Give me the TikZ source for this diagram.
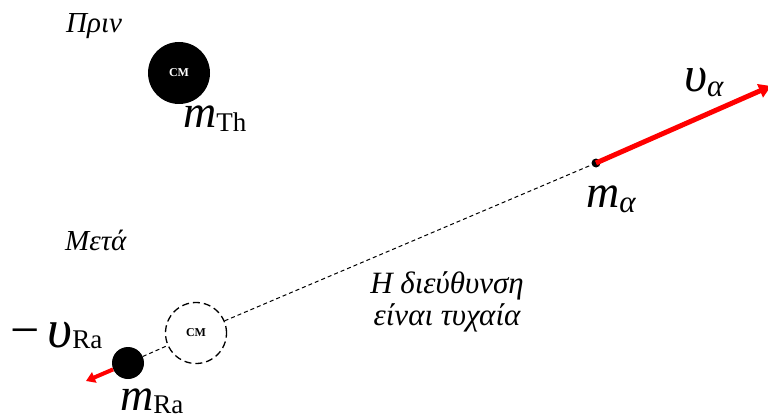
\documentclass[tikz,border=0pt]{standalone}
\usepackage{fontspec}
\setmainfont{Liberation Serif}
\usetikzlibrary{arrows.meta}
\newcommand{\fs}[1]{\fontsize{#1}{#1}\selectfont}
\newcommand{\lowsub}[2]{\raisebox{-#1pt}{#2}}
\tikzset{
  lbl/.style={inner sep=0pt, anchor=base west},
  vel/.style={red, line width=5pt, -{Triangle[length=12pt,width=14pt]}},
  path/.style={line width=1pt, dash pattern=on 4pt off 3pt},
}
\begin{document}
\begin{tikzpicture}[x=1pt,y=-1pt]
\useasboundingbox (0,0) rectangle (768,417);
% Before
\node[lbl] (prin) at (66,33) {\fs{29}\itshape Πριν};
\node[circle, fill=black, minimum size=62pt, inner sep=0pt] (th) at (179,73) {};
\node[text=white, font=\fs{12}\bfseries] (thcm) at (th) {CM};
\node[lbl] (mth) at (183,128) {\fs{46}\itshape m\lowsub{4}{\fs{27}\upshape Th}};
% After
\node[lbl] (meta) at (65,250) {\fs{29}\itshape Μετά};
\node[circle, draw=black, dash pattern=on 7pt off 4pt, line width=1.3pt, minimum size=61pt, inner sep=0pt] (cm) at (196,333) {};
\node[font=\fs{12}\bfseries] (cmlbl) at (cm) {CM};
\node[circle, fill=black, minimum size=32pt, inner sep=0pt] (ra) at (128,363) {};
\node[circle, fill=black, minimum size=9pt, inner sep=0pt] (al) at (596,163) {};
\coordinate (altip) at (771,86);
\coordinate (ratip) at (86,381);
\draw[path] (ra) -- (cm);
\draw[path] (cm) -- (al);
\draw[vel] (al.center) -- (altip);
\draw[red, line width=4pt, -{Triangle[length=9pt,width=11pt]}] (ra) -- (ratip);
\node[lbl] (ual) at (684,92) {\fs{50}\itshape υ\lowsub{5}{\fs{31}α}};
\node[lbl] (mal) at (586,207) {\fs{46}\itshape m\lowsub{5}{\fs{31}α}};
\node[lbl] (ura) at (10,347) {\fs{52}−\hspace{8pt}\fs{54}\itshape υ\lowsub{1}{\fs{27}\upshape Ra}};
\node[lbl] (mra) at (120,410) {\fs{46}\itshape m\lowsub{3}{\fs{27}\upshape Ra}};
\node[align=center, font=\fs{31}\itshape, inner sep=0pt] (dir) at (447,302) {Η διεύθυνση\\[1pt]είναι τυχαία};
\end{tikzpicture}
\end{document}
